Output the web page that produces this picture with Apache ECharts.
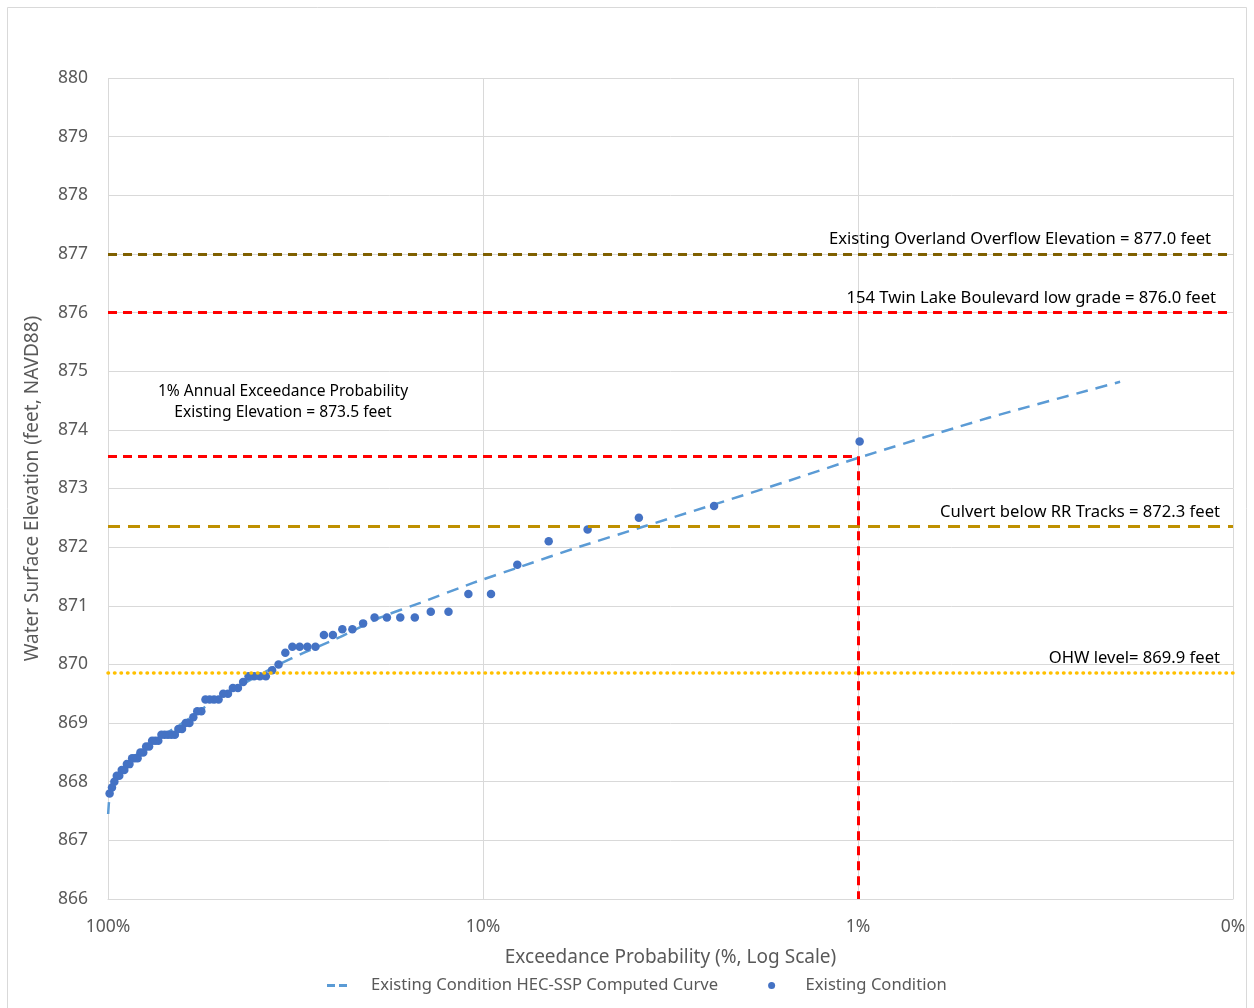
<!DOCTYPE html>
<html>
<head>
<meta charset="utf-8">
<script src="https://cdn.jsdelivr.net/npm/echarts@6/dist/echarts.min.js"></script>
<style>
html,body{margin:0;padding:0;background:#fff;}
#chart{width:1254px;height:1008px;}
</style>
</head>
<body>
<div id="chart"></div>
<script>
// ---- Data ----
const xTickValues = [100, 10, 1, 0.1];
const xTickLabels = ['100%', '10%', '1%', '0%'];

// Existing Condition (observed annual peaks, plotted by exceedance probability %)
const obsProb = [0.99, 2.42, 3.84, 5.26, 6.68, 8.10, 9.52, 10.94, 12.36, 13.78,
  15.20, 16.62, 18.04, 19.46, 20.88, 22.30, 23.72, 25.14, 26.56, 27.98,
  29.40, 30.82, 32.24, 33.66, 35.09, 36.51, 37.93, 39.35, 40.77, 42.19,
  43.61, 45.03, 46.45, 47.87, 49.29, 50.71, 52.13, 53.55, 54.97, 56.39,
  57.81, 59.23, 60.65, 62.07, 63.49, 64.91, 66.33, 67.75, 69.18, 70.60,
  72.02, 73.44, 74.86, 76.28, 77.70, 79.12, 80.54, 81.96, 83.38, 84.80,
  86.22, 87.64, 89.06, 90.48, 91.90, 93.32, 94.74, 96.16, 97.59, 99.01];
const obsElev = [873.8, 872.7, 872.5, 872.3, 872.1, 871.7, 871.2, 871.2, 870.9, 870.9,
  870.8, 870.8, 870.8, 870.8, 870.7, 870.6, 870.6, 870.5, 870.5, 870.3,
  870.3, 870.3, 870.3, 870.2, 870.0, 869.9, 869.8, 869.8, 869.8, 869.8,
  869.7, 869.6, 869.6, 869.5, 869.5, 869.4, 869.4, 869.4, 869.4, 869.2,
  869.2, 869.1, 869.0, 869.0, 868.9, 868.9, 868.8, 868.8, 868.8, 868.8,
  868.8, 868.7, 868.7, 868.7, 868.6, 868.6, 868.5, 868.5, 868.4, 868.4,
  868.4, 868.3, 868.3, 868.2, 868.2, 868.1, 868.1, 868.0, 867.9, 867.8];

// HEC-SSP computed curve
const curveProb = [99.9, 99.5, 99, 98, 95, 90, 85, 80, 70, 60, 55, 50, 45, 40, 35, 30,
  24, 18.8, 14.7, 10.63, 8.08, 5.51, 3.82, 2.44, 1.585, 0.99, 0.446, 0.2];
const curveElev = [867.45, 867.62, 867.75, 867.88, 868.05, 868.27, 868.43, 868.57, 868.82, 869.1, 869.28, 869.45, 869.62, 869.8, 870.0, 870.2,
  870.47, 870.8, 871.05, 871.39, 871.65, 872.01, 872.33, 872.72, 873.10, 873.53, 874.21, 874.82];

// Reference elevations
const refNames = ['Existing Overland Overflow Elevation = 877.0 feet',
  '154 Twin Lake Boulevard low grade = 876.0 feet',
  'Culvert below RR Tracks = 872.3 feet',
  'OHW level= 869.9 feet'];
const refElev = [877.0, 876.0, 872.35, 869.85];
const aepProb = 1;
const aepElev = 873.55;
const aepText = ['1% Annual Exceedance Probability', 'Existing Elevation = 873.5 feet'];

// ---- Chart ----
const FONT = '"Noto Sans", "Open Sans", sans-serif';
const refStyles = [
  {color: '#7f6000', width: 3, type: [9, 6]},
  {color: '#ff0000', width: 3, type: [9, 6]},
  {color: '#bf9000', width: 3, type: [12, 8]},
  {color: '#ffc000', width: 3.5, type: [0.5, 6], cap: 'round'}
];
const refPadRight = [17, 12, 8, 8];

const refMarkData = refElev.map((v, i) => ([
  {
    coord: [100, v],
    lineStyle: refStyles[i],
    label: {
      show: true, position: 'insideEndTop', formatter: refNames[i],
      color: '#000', fontFamily: FONT, fontSize: 16.6,
      distance: 5, padding: [0, refPadRight[i], 1, 0]
    }
  },
  {coord: [0.1, v]}
]));

const chart = echarts.init(document.getElementById('chart'), null, {renderer: 'canvas'});
chart.setOption({
  animation: false,
  backgroundColor: '#fff',
  textStyle: {fontFamily: FONT},
  grid: {left: 108, right: 21, top: 78, bottom: 109, containLabel: false},
  xAxis: {
    type: 'log', logBase: 10, min: 0.1, max: 100, inverse: true,
    name: 'Exceedance Probability (%, Log Scale)', nameLocation: 'middle', nameGap: 49,
    nameTextStyle: {color: '#595959', fontSize: 19, fontFamily: FONT},
    axisLine: {show: true, lineStyle: {color: '#d9d9d9', width: 1}},
    axisTick: {show: false},
    splitLine: {show: true, lineStyle: {color: '#d9d9d9', width: 1}},
    axisLabel: {
      color: '#595959', fontSize: 17.5, fontFamily: FONT, margin: 19,
      showMinLabel: true, showMaxLabel: true,
      formatter: function (v) {
        for (let i = 0; i < xTickValues.length; i++) {
          if (Math.abs(Math.log10(v) - Math.log10(xTickValues[i])) < 1e-6) return xTickLabels[i];
        }
        return '';
      }
    }
  },
  yAxis: {
    type: 'value', min: 866, max: 880, interval: 1,
    name: 'Water Surface Elevation (feet, NAVD88)', nameLocation: 'middle', nameGap: 66,
    nameTextStyle: {color: '#595959', fontSize: 19, fontFamily: FONT},
    axisLine: {show: false},
    axisTick: {show: false},
    splitLine: {show: true, lineStyle: {color: '#d9d9d9', width: 1}},
    axisLabel: {color: '#595959', fontSize: 17.5, fontFamily: FONT, margin: 20}
  },
  legend: {
    bottom: 9, left: 322, itemGap: 50, itemWidth: 20, itemHeight: 7,
    textStyle: {color: '#595959', fontSize: 16.6, fontFamily: FONT, padding: [0, 0, 0, 19]},
    data: [
      {name: 'Existing Condition HEC-SSP Computed Curve',
       icon: 'path://M0,0L8,0L8,3L0,3ZM12,0L20,0L20,3L12,3Z', itemStyle: {color: '#5b9bd5'}},
      {name: 'Existing Condition', icon: 'circle', itemStyle: {color: '#4472c4'}}
    ]
  },
  graphic: [
    {type: 'rect', silent: true, shape: {x: 7.5, y: 7.5, width: 1239, height: 1010},
      style: {fill: 'none', stroke: '#d9d9d9', lineWidth: 1}, z: -1},
    {type: 'text', silent: true, x: 283, y: 381,
      style: {text: aepText.join('\n'), fill: '#000', font: '15.6px ' + FONT, lineHeight: 21, align: 'center'}}
  ],
  series: [
    {
      name: 'Existing Condition HEC-SSP Computed Curve',
      type: 'line',
      data: curveProb.map((p, i) => [p, curveElev[i]]),
      showSymbol: false, symbol: 'none', smooth: 0.2,
      lineStyle: {color: '#5b9bd5', width: 2.5, type: [12, 8]},
      itemStyle: {color: '#5b9bd5'},
      z: 3
    },
    {
      name: 'Existing Condition',
      type: 'scatter',
      data: obsProb.map((p, i) => [p, obsElev[i]]),
      symbol: 'circle', symbolSize: 8.5,
      itemStyle: {color: '#4472c4', opacity: 1},
      z: 4
    },
    {
      name: 'refs', type: 'line', data: [], z: 2,
      markLine: {
        silent: true, symbol: 'none', animation: false,
        data: refMarkData.concat([
          [{coord: [100, aepElev], lineStyle: {color: '#ff0000', width: 3, type: [9, 6]}, label: {show: false}},
           {coord: [aepProb, aepElev]}],
          [{coord: [aepProb, aepElev], lineStyle: {color: '#ff0000', width: 3, type: [9, 6]}, label: {show: false}},
           {coord: [aepProb, 866]}]
        ])
      }
    }
  ]
});
</script>
</body>
</html>
